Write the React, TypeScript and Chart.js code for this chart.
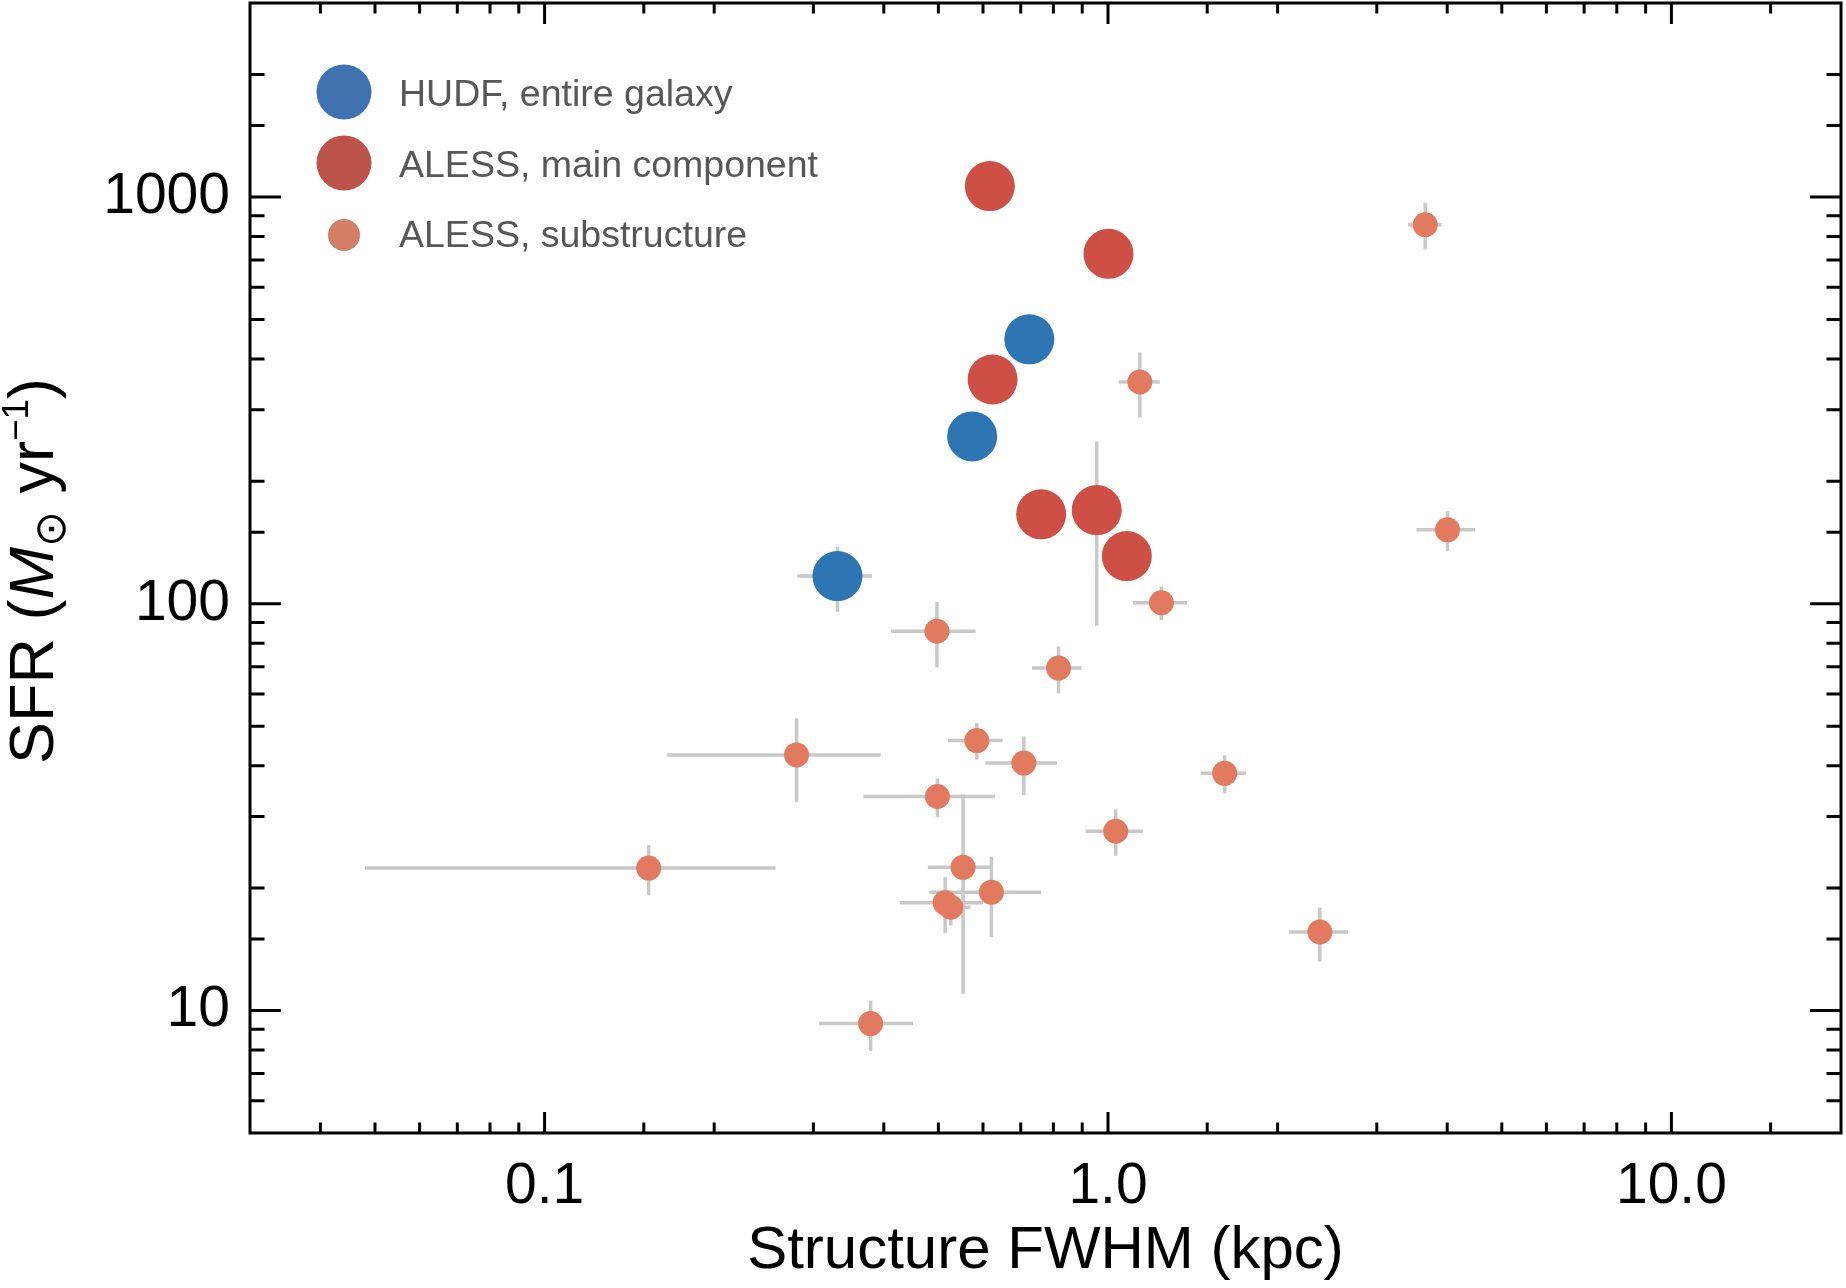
import React, { useEffect, useRef } from 'react';
import { Chart, registerables } from 'chart.js';

Chart.register(...registerables);

const FONT = '"Liberation Sans", Arial, Helvetica, sans-serif';

// ---- axis ticks ----
const xMajorTicks = [0.1, 1, 10];
const xMajorLabels = ['0.1', '1.0', '10.0'];
const yMajorTicks = [10, 100, 1000];
const yMajorLabels = ['10', '100', '1000'];

// ---- HUDF, entire galaxy ----
const hudfSize = [0.725, 0.574, 0.331];
const hudfSfr = [447, 258, 117];
const hudfSizeLo = [null, null, 0.281];
const hudfSizeHi = [null, null, 0.381];
const hudfSfrLo = [null, null, 95.6];
const hudfSfrHi = [null, null, 138];

// ---- ALESS, main component ----
const mainSize = [0.617, 1.002, 0.624, 0.761, 0.955, 1.08];
const mainSfr = [1064, 725, 356, 166, 170, 131];
const mainSizeLo = [null, null, null, null, null, null];
const mainSizeHi = [null, null, null, null, null, null];
const mainSfrLo = [null, null, null, null, 88.3, null];
const mainSfrHi = [null, null, null, null, 250.7, null];

// ---- ALESS, substructure ----
const subSize = [3.656, 1.139, 4.005, 1.244, 0.497, 0.817, 0.585, 0.28, 0.709, 1.611, 0.498, 1.032, 0.153, 0.553, 0.621, 0.514, 0.526, 2.377, 0.379];
const subSfr = [855, 351, 152, 100.6, 85.6, 69.5, 46.1, 42.5, 40.6, 38.3, 33.6, 27.6, 22.4, 22.5, 19.55, 18.4, 17.95, 15.6, 9.29];
const subSizeLo = [3.41, 1.045, 3.528, 1.107, 0.412, 0.733, 0.52, 0.165, 0.606, 1.46, 0.368, 0.913, 0.048, 0.479, 0.482, 0.427, 0.491, 2.095, 0.307];
const subSizeHi = [3.907, 1.236, 4.483, 1.381, 0.582, 0.898, 0.65, 0.395, 0.812, 1.758, 0.63, 1.153, 0.257, 0.619, 0.761, 0.6, 0.57, 2.666, 0.451];
const subSfrLo = [743, 287, 135, 91.2, 69.8, 60.2, 41.4, 32.6, 33.9, 34.2, 29.9, 24.0, 19.2, 11.0, 15.15, 15.5, 16.2, 13.2, 7.95];
const subSfrHi = [968, 415, 169, 110.2, 101, 78.6, 50.9, 52.3, 47.2, 42.4, 37.2, 31.2, 25.5, 34.0, 23.9, 21.3, 19.7, 17.9, 10.58];

const seriesLabels = ['HUDF, entire galaxy', 'ALESS, main component', 'ALESS, substructure'];
const seriesColors = ['#2d75b3', '#ce4f45', '#e17a5e'];
const legendColors = ['#3f71af', '#bc544a', '#d27f66'];

const errorSets = [
  { xLo: hudfSizeLo, xHi: hudfSizeHi, yLo: hudfSfrLo, yHi: hudfSfrHi, xs: hudfSize, ys: hudfSfr },
  { xLo: mainSizeLo, xHi: mainSizeHi, yLo: mainSfrLo, yHi: mainSfrHi, xs: mainSize, ys: mainSfr },
  { xLo: subSizeLo, xHi: subSizeHi, yLo: subSfrLo, yHi: subSfrHi, xs: subSize, ys: subSfr },
];

const pts = (xs: number[], ys: number[]) => xs.map((x, i) => ({ x, y: ys[i] }));

const isMajor = (v: number) => {
  const l = Math.log10(v);
  return Math.abs(l - Math.round(l)) < 1e-6;
};

const labelFor = (v: number, ticks: number[], labels: string[]) => {
  const i = ticks.findIndex((t) => Math.abs(Math.log10(v) - Math.log10(t)) < 1e-6);
  return i >= 0 ? labels[i] : '';
};

const errorBarPlugin = {
  id: 'errorBars',
  beforeDatasetsDraw(chart: any) {
    const { ctx, chartArea, scales } = chart;
    const xs = scales.x;
    const ys = scales.y;
    ctx.save();
    ctx.beginPath();
    ctx.rect(chartArea.left, chartArea.top, chartArea.right - chartArea.left, chartArea.bottom - chartArea.top);
    ctx.clip();
    ctx.strokeStyle = '#c8c8c8';
    ctx.lineWidth = 3.5;
    ctx.lineCap = 'butt';
    errorSets.forEach((s) => {
      s.xs.forEach((xv, i) => {
        const px = xs.getPixelForValue(xv);
        const py = ys.getPixelForValue(s.ys[i]);
        if (s.xLo[i] != null && s.xHi[i] != null) {
          ctx.beginPath();
          ctx.moveTo(xs.getPixelForValue(s.xLo[i]), py);
          ctx.lineTo(xs.getPixelForValue(s.xHi[i]), py);
          ctx.stroke();
        }
        if (s.yLo[i] != null && s.yHi[i] != null) {
          ctx.beginPath();
          ctx.moveTo(px, ys.getPixelForValue(s.yLo[i]));
          ctx.lineTo(px, ys.getPixelForValue(s.yHi[i]));
          ctx.stroke();
        }
      });
    });
    ctx.restore();
  },
};

const framePlugin = {
  id: 'frame',
  afterDraw(chart: any) {
    const { ctx, chartArea, scales } = chart;
    const { left, right, top, bottom } = chartArea;
    ctx.save();
    ctx.strokeStyle = '#000';
    ctx.lineWidth = 3;
    ctx.lineCap = 'butt';
    ctx.strokeRect(left, top, right - left, bottom - top);
    scales.x.ticks.forEach((t: any) => {
      const px = scales.x.getPixelForValue(t.value);
      if (px <= left + 2 || px >= right - 2) return;
      const len = isMajor(t.value) ? 21 : 10.5;
      ctx.beginPath();
      ctx.moveTo(px, bottom);
      ctx.lineTo(px, bottom - len);
      ctx.moveTo(px, top);
      ctx.lineTo(px, top + len);
      ctx.stroke();
    });
    scales.y.ticks.forEach((t: any) => {
      const py = scales.y.getPixelForValue(t.value);
      if (py <= top + 2 || py >= bottom - 2) return;
      const len = isMajor(t.value) ? 31 : 14.5;
      ctx.beginPath();
      ctx.moveTo(left, py);
      ctx.lineTo(left + len, py);
      ctx.moveTo(right, py);
      ctx.lineTo(right - len, py);
      ctx.stroke();
    });
    ctx.restore();
  },
};

const legendPlugin = {
  id: 'innerLegend',
  afterDraw(chart: any) {
    const { ctx, chartArea } = chart;
    const cx = chartArea.left + 94;
    const rows = [
      { cy: chartArea.top + 89, r: 27.5, base: chartArea.top + 103 },
      { cy: chartArea.top + 160, r: 27.5, base: chartArea.top + 174 },
      { cy: chartArea.top + 232, r: 16, base: chartArea.top + 244 },
    ];
    ctx.save();
    ctx.font = `37.5px ${FONT}`;
    ctx.textBaseline = 'alphabetic';
    ctx.textAlign = 'left';
    rows.forEach((row, i) => {
      ctx.fillStyle = legendColors[i];
      ctx.beginPath();
      ctx.arc(cx, row.cy, row.r, 0, Math.PI * 2);
      ctx.fill();
      ctx.fillStyle = '#575757';
      ctx.fillText(chart.data.datasets[i].label, chartArea.left + 149, row.base);
    });
    ctx.restore();
  },
};

const yTitlePlugin = {
  id: 'yTitle',
  afterDraw(chart: any) {
    const { ctx, chartArea } = chart;
    const big = `63px ${FONT}`;
    const parts = [
      { t: 'SFR (', font: big, dy: 0 },
      { t: 'M', font: `italic 63px ${FONT}`, dy: 0 },
      { t: '\u2299', font: `43px "DejaVu Sans", ${FONT}`, dy: 12 },
      { t: ' yr', font: big, dy: 0 },
      { t: '\u22121', font: `37px ${FONT}`, dy: -25 },
      { t: ')', font: big, dy: 0 },
    ];
    ctx.save();
    let total = 0;
    const widths = parts.map((p) => {
      ctx.font = p.font;
      const w = ctx.measureText(p.t).width;
      total += w;
      return w;
    });
    const cy = (chartArea.top + chartArea.bottom) / 2 + 3;
    ctx.translate(53, cy);
    ctx.rotate(-Math.PI / 2);
    ctx.fillStyle = '#000';
    ctx.textBaseline = 'alphabetic';
    ctx.textAlign = 'left';
    let x = -total / 2;
    parts.forEach((p, i) => {
      ctx.font = p.font;
      ctx.fillText(p.t, x, p.dy);
      x += widths[i];
    });
    ctx.restore();
  },
};

export default function App() {
  const ref = useRef<HTMLCanvasElement | null>(null);

  useEffect(() => {
    if (!ref.current) return;
    const chart = new Chart(ref.current, {
      type: 'scatter',
      data: {
        datasets: [
          {
            label: seriesLabels[0],
            data: pts(hudfSize, hudfSfr),
            backgroundColor: seriesColors[0],
            pointRadius: 25,
            pointHoverRadius: 25,
            pointBorderWidth: 0,
            borderWidth: 0,
            order: 0,
          },
          {
            label: seriesLabels[1],
            data: pts(mainSize, mainSfr),
            backgroundColor: seriesColors[1],
            pointRadius: 25,
            pointHoverRadius: 25,
            pointBorderWidth: 0,
            borderWidth: 0,
            order: 1,
          },
          {
            label: seriesLabels[2],
            data: pts(subSize, subSfr),
            backgroundColor: seriesColors[2],
            pointRadius: 12.5,
            pointHoverRadius: 12.5,
            pointBorderWidth: 0,
            borderWidth: 0,
            order: 2,
          },
        ],
      } as any,
      options: {
        animation: false,
        responsive: false,
        maintainAspectRatio: false,
        devicePixelRatio: 1,
        events: [],
        layout: { autoPadding: false, padding: { left: 0, right: 5, top: 3, bottom: 0 } },
        plugins: { legend: { display: false }, tooltip: { enabled: false } },
        scales: {
          x: {
            type: 'logarithmic',
            position: 'bottom',
            min: 0.03,
            max: 20,
            grid: { display: false, drawTicks: false },
            border: { display: false },
            ticks: {
              autoSkip: false,
              maxRotation: 0,
              minRotation: 0,
              padding: 20,
              color: '#000',
              font: { family: FONT, size: 57 },
              callback: (v: any) => labelFor(Number(v), xMajorTicks, xMajorLabels),
            },
            title: {
              display: true,
              text: 'Structure FWHM (kpc)',
              color: '#000',
              font: { family: FONT, size: 60 },
              padding: { top: 0, bottom: 1 },
            },
            afterFit: (s: any) => {
              s.height = 155;
              s.paddingLeft = 0;
              s.paddingRight = 0;
            },
          },
          y: {
            type: 'logarithmic',
            position: 'left',
            min: 5,
            max: 3000,
            grid: { display: false, drawTicks: false },
            border: { display: false },
            ticks: {
              autoSkip: false,
              padding: 20,
              color: '#000',
              font: { family: FONT, size: 57 },
              callback: (v: any) => labelFor(Number(v), yMajorTicks, yMajorLabels),
            },
            afterFit: (s: any) => {
              s.width = 250;
              s.paddingTop = 0;
              s.paddingBottom = 0;
            },
          },
        },
      } as any,
      plugins: [errorBarPlugin, framePlugin, legendPlugin, yTitlePlugin],
    });
    return () => chart.destroy();
  }, []);

  return (
    <div style={{ position: 'absolute', left: 0, top: 0, width: 1846, height: 1288, background: '#fff' }}>
      <canvas ref={ref} width={1846} height={1288} style={{ display: 'block', width: 1846, height: 1288 }} />
    </div>
  );
}
